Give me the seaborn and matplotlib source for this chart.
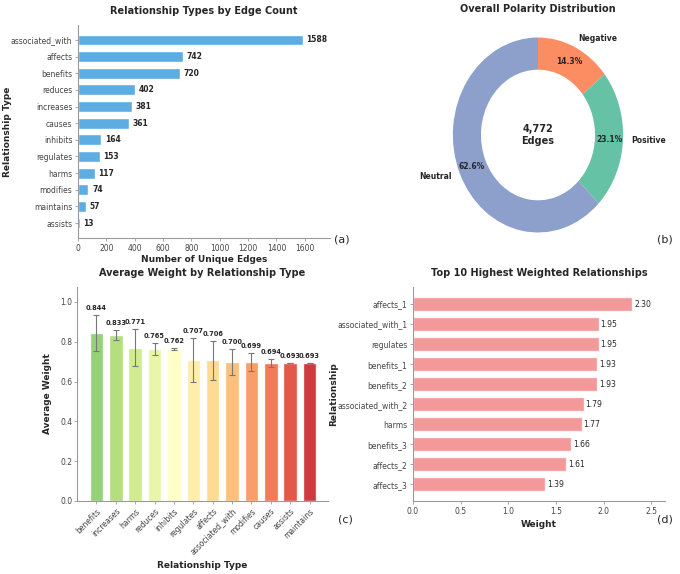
import numpy as np
import matplotlib.pyplot as plt
import seaborn as sns

sns.set_theme(style='ticks')
plt.rcParams['font.family'] = ['DejaVu Sans']

# (a) edge counts per relationship type
rel_types = ['associated_with', 'affects', 'benefits', 'reduces', 'increases', 'causes',
             'inhibits', 'regulates', 'harms', 'modifies', 'maintains', 'assists']
edge_counts = [1588, 742, 720, 402, 381, 361, 164, 153, 117, 74, 57, 13]

# (b) polarity split
polarity_labels = ['Negative', 'Positive', 'Neutral']
polarity_counts = [682, 1102, 2988]
polarity_colors = ['#fc8d62', '#66c2a5', '#8da0cb']

# (c) average weight per type
weight_types = ['benefits', 'increases', 'harms', 'reduces', 'inhibits', 'regulates',
                'affects', 'associated_with', 'modifies', 'causes', 'assists', 'maintains']
avg_weight = [0.844, 0.833, 0.771, 0.765, 0.762, 0.707, 0.706, 0.700, 0.699, 0.694, 0.693, 0.693]
weight_std = [0.090, 0.025, 0.095, 0.030, 0.005, 0.110, 0.100, 0.065, 0.045, 0.020, 0.0, 0.0]

# (d) top weighted relationships
top_labels = ['affects_1', 'associated_with_1', 'regulates', 'benefits_1', 'benefits_2',
              'associated_with_2', 'harms', 'benefits_3', 'affects_2', 'affects_3']
top_weights = [2.30, 1.95, 1.95, 1.93, 1.93, 1.79, 1.77, 1.66, 1.61, 1.39]

W, H = 680, 574
fig = plt.figure(figsize=(W / 100, H / 100), dpi=100)

def box(l, t, r, b):
    return [l / W, 1 - b / H, (r - l) / W, (b - t) / H]

TICK = 5.5
TITLE = 7
LAB = 6.5
spine_col = '#9a9a9a'

def style(ax):
    sns.despine(ax=ax)
    for s in ['left', 'bottom']:
        ax.spines[s].set_color(spine_col)
        ax.spines[s].set_linewidth(0.8)
    ax.tick_params(labelsize=TICK, length=2, width=0.6, pad=2,
                   colors=spine_col, labelcolor='#444444')

# ---- (a) ----
ax1 = fig.add_axes(box(78, 25, 330, 238))
sns.barplot(x=edge_counts, y=rel_types, color='#5DADE2', saturation=1, width=0.65,
            ax=ax1, orient='h')
for i, c in enumerate(edge_counts):
    ax1.text(c + 25, i, str(c), va='center', ha='left', fontsize=5.5, fontweight='bold')
ax1.set_xlim(0, 1778)
ax1.set_ylim(11.9, -0.9)
ax1.set_title('Relationship Types by Edge Count', fontsize=TITLE, fontweight='bold', pad=8)
ax1.set_xlabel('Number of Unique Edges', fontsize=LAB, fontweight='bold', labelpad=2)
ax1.set_ylabel('Relationship Type', fontsize=LAB, fontweight='bold')
ax1.yaxis.set_label_coords(-0.26, 0.5)
style(ax1)

# ---- (b) ----
ax2 = fig.add_axes(box(418, 30, 658, 240))
wedges, texts, autotexts = ax2.pie(polarity_counts, labels=polarity_labels, colors=polarity_colors,
                                   startangle=90, counterclock=False, autopct='%1.1f%%',
                                   pctdistance=0.84, labeldistance=1.1,
                                   wedgeprops=dict(width=0.33, edgecolor='none'),
                                   textprops=dict(fontsize=5.5, fontweight='bold'))
ax2.text(0, 0, f'{sum(polarity_counts):,}\nEdges', ha='center', va='center',
         fontsize=7, fontweight='bold')
ax2.set_aspect('auto')
ax2.set_xlim(-1.41, 1.41)
ax2.set_ylim(-1.077, 1.077)
ax2.set_title('Overall Polarity Distribution', fontsize=TITLE, fontweight='bold', pad=13)

# ---- (c) ----
ax3 = fig.add_axes(box(77, 287, 328, 501))
pal = [plt.cm.RdYlGn_r(v) for v in np.linspace(0.25, 0.93, len(weight_types))]
sns.barplot(x=weight_types, y=avg_weight, hue=weight_types, palette=pal, legend=False,
            saturation=1, width=0.7, alpha=0.88, ax=ax3)
ax3.errorbar(weight_types, avg_weight, yerr=weight_std, fmt='none', ecolor='#777777',
             elinewidth=0.8, capsize=2, capthick=0.8)
for i, (m, s) in enumerate(zip(avg_weight, weight_std)):
    ax3.text(i, m + s + 0.02, f'{m:.3f}', ha='center', va='bottom', fontsize=4.8, fontweight='bold')
ax3.set_xlim(-1.0, 11.95)
ax3.set_ylim(0, 1.075)
ax3.set_title('Average Weight by Relationship Type', fontsize=TITLE, fontweight='bold', pad=8)
ax3.set_xlabel('Relationship Type', fontsize=LAB, fontweight='bold', labelpad=3)
ax3.set_ylabel('Average Weight', fontsize=LAB, fontweight='bold')
style(ax3)
ax3.tick_params(axis='y', pad=1.5)
ax3.yaxis.set_label_coords(-0.1, 0.5)
plt.setp(ax3.get_xticklabels(), rotation=45, ha='right', rotation_mode='anchor')

# ---- (d) ----
ax4 = fig.add_axes(box(413, 287, 665, 501))
sns.barplot(x=top_weights, y=top_labels, color='lightcoral', saturation=1, alpha=0.8,
            width=0.7, ax=ax4, orient='h')
for i, w in enumerate(top_weights):
    ax4.text(w + 0.02, i, f'{w:.2f}', va='center', ha='left', fontsize=5.5)
ax4.set_xlim(0, 2.645)
ax4.set_ylim(9.83, -0.85)
ax4.set_title('Top 10 Highest Weighted Relationships', fontsize=TITLE, fontweight='bold', pad=8)
ax4.set_xlabel('Weight', fontsize=LAB, fontweight='bold', labelpad=3)
ax4.set_ylabel('Relationship', fontsize=LAB, fontweight='bold')
ax4.yaxis.set_label_coords(-0.296, 0.5)
style(ax4)

for lab, x, y in [('(a)', 342, 240), ('(b)', 665, 240), ('(c)', 345, 520), ('(d)', 665, 520)]:
    fig.text(x / W, 1 - y / H, lab, ha='center', va='center', fontsize=8)

fig.savefig('out.png', dpi=100)
